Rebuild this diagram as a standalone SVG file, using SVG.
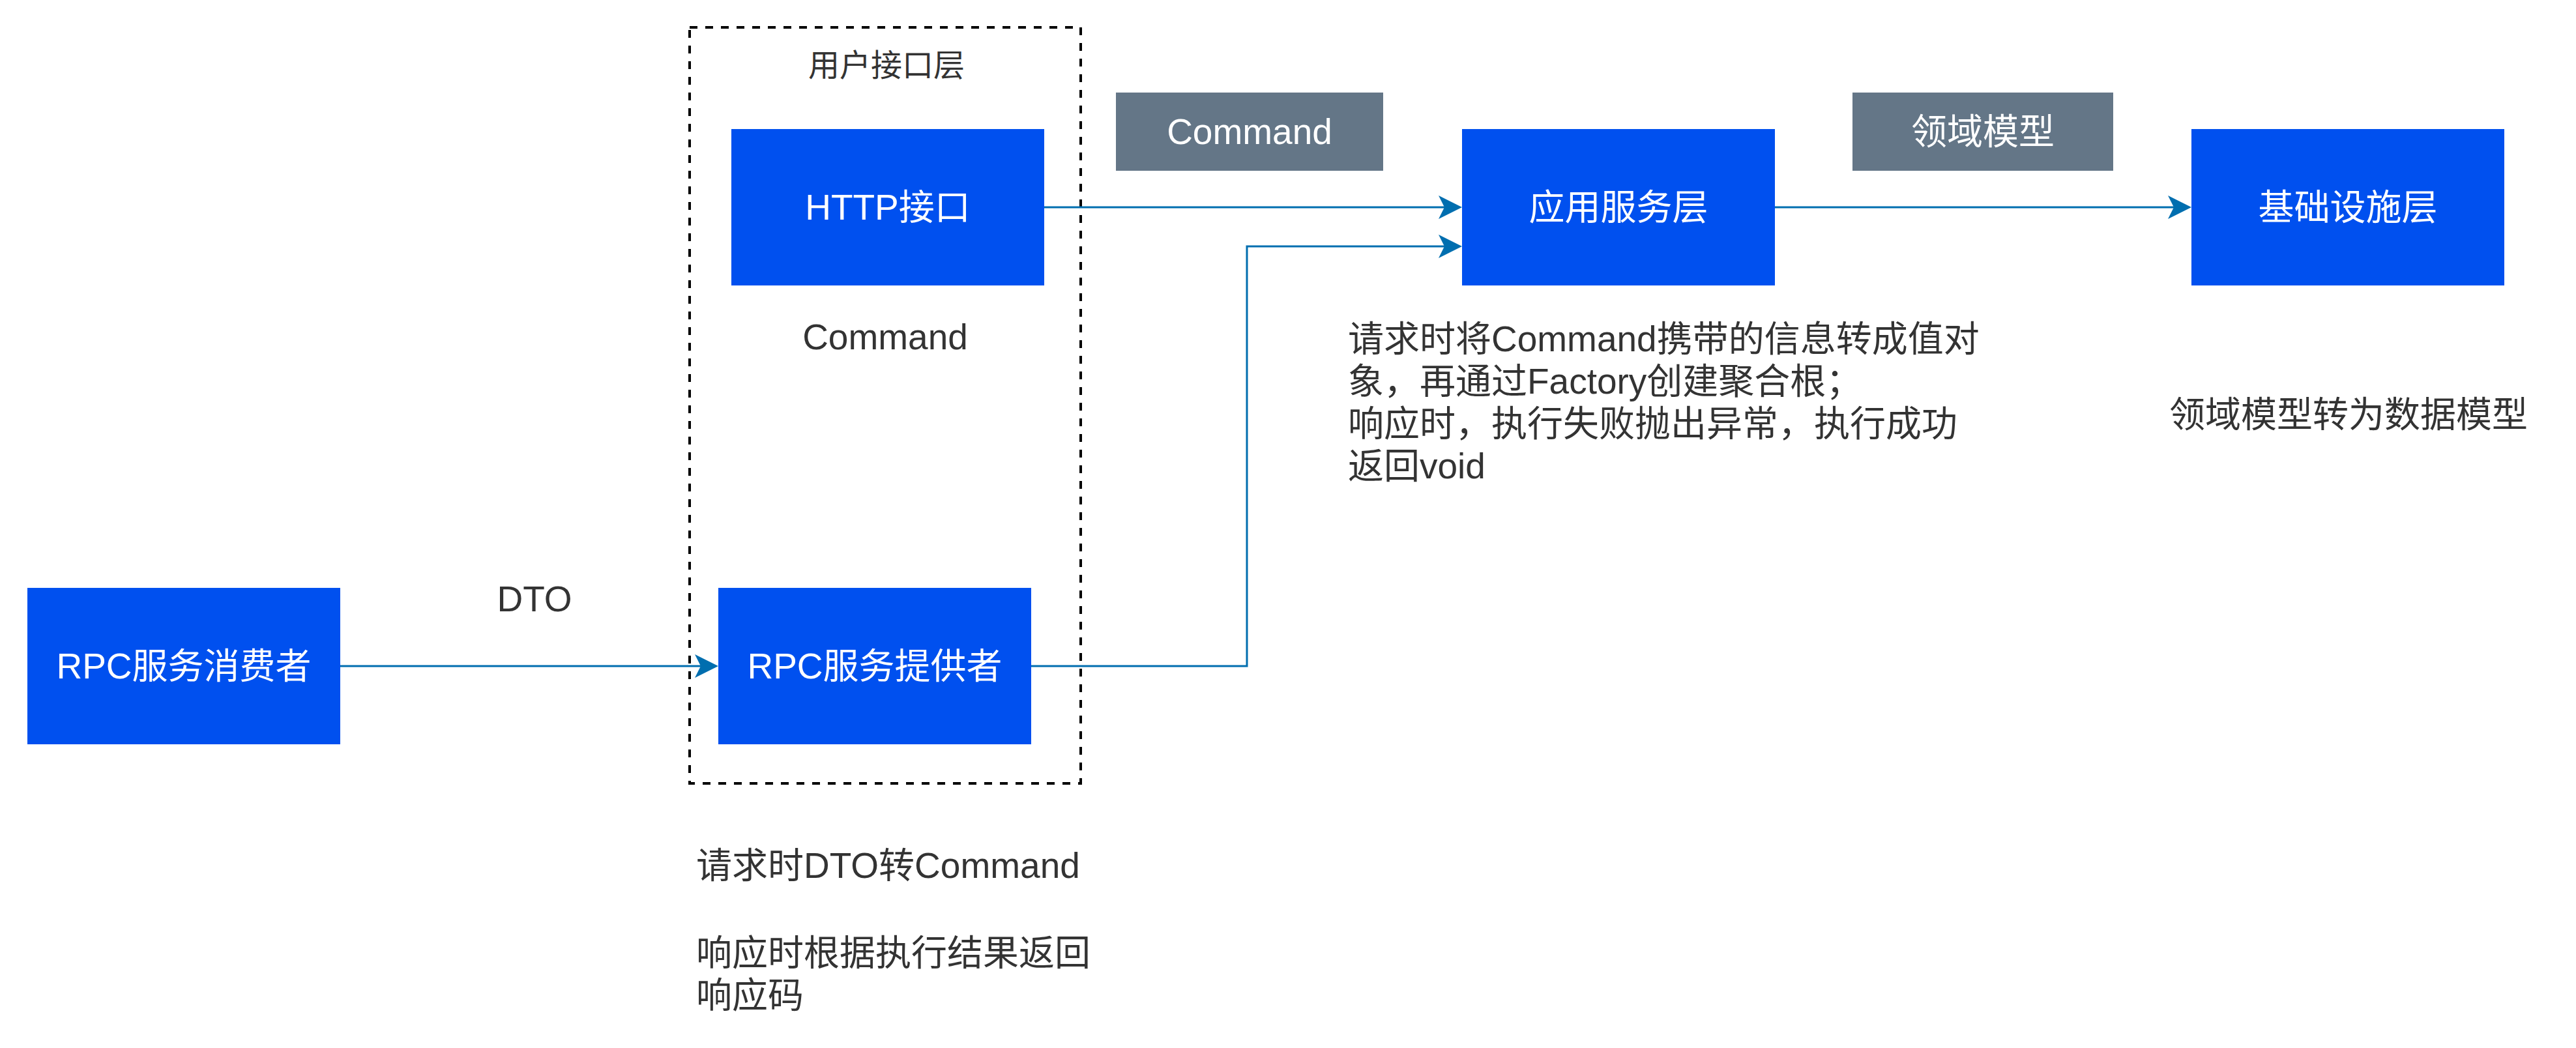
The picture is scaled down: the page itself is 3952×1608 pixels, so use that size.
<svg xmlns="http://www.w3.org/2000/svg" width="3952" height="1608" viewBox="0 0 3952 1608">
<style>
.node{fill:#0050EF;}
.tag{fill:#647687;}
.nt{font-family:"Liberation Sans","Noto Sans CJK SC",sans-serif;font-size:55px;fill:#FFFFFF;text-anchor:middle;}
.lbl{font-family:"Liberation Sans","Noto Sans CJK SC",sans-serif;font-size:55px;fill:#333333;}
.mid{text-anchor:middle;}
.edge{fill:none;stroke:#006EAF;stroke-width:3;marker-end:url(#arr);}
</style>
<defs>
<marker id="arr" markerUnits="userSpaceOnUse" markerWidth="36" markerHeight="36" refX="9" refY="18" orient="auto" viewBox="0 0 36 36">
<path d="M0,0 L36,18 L0,36 L9,18 Z" fill="#006EAF"/>
</marker>
</defs>
<rect width="3952" height="1608" fill="#FFFFFF"/>
<g id="user-interface-layer">
<rect x="1058" y="42" width="600" height="1160" fill="none" stroke="#000000" stroke-width="4" stroke-dasharray="12 12"/>
<text x="1360" y="117" class="lbl mid" style="font-size:48px">用户接口层</text>
</g>
<g id="connectors">
<path class="edge" d="M1602,318 H2216"/>
<path class="edge" d="M1582,1022 H1913 V378 H2216"/>
<path class="edge" d="M522,1022 H1075"/>
<path class="edge" d="M2723,318 H3335"/>
</g>
<g id="http">
<rect class="node" x="1122" y="198" width="480" height="240"/>
<text class="nt" x="1362" y="337">HTTP接口</text>
</g>
<g id="rpc-provider">
<rect class="node" x="1102" y="902" width="480" height="240"/>
<text class="nt" x="1342" y="1041">RPC服务提供者</text>
</g>
<g id="rpc-consumer">
<rect class="node" x="42" y="902" width="480" height="240"/>
<text class="nt" x="282" y="1041">RPC服务消费者</text>
</g>
<g id="app-service">
<rect class="node" x="2243" y="198" width="480" height="240"/>
<text class="nt" x="2483" y="337">应用服务层</text>
</g>
<g id="infra">
<rect class="node" x="3362" y="198" width="480" height="240"/>
<text class="nt" x="3602" y="337">基础设施层</text>
</g>
<g id="tag-command">
<rect class="tag" x="1712" y="142" width="410" height="120"/>
<text class="nt" x="1917" y="221">Command</text>
</g>
<g id="tag-domain">
<rect class="tag" x="2842" y="142" width="400" height="120"/>
<text class="nt" x="3042" y="221">领域模型</text>
</g>
<g id="label-command">
<text class="lbl mid" x="1358" y="536">Command</text>
</g>
<g id="label-dto">
<text class="lbl mid" x="820" y="938">DTO</text>
</g>
<g id="label-app">
<text class="lbl" x="2068" y="539">请求时将Command携带的信息转成值对</text>
<text class="lbl" x="2068" y="604">象，再通过Factory创建聚合根；</text>
<text class="lbl" x="2068" y="669">响应时，执行失败抛出异常，执行成功</text>
<text class="lbl" x="2068" y="734">返回void</text>
</g>
<g id="label-infra">
<text class="lbl mid" x="3603" y="655">领域模型转为数据模型</text>
</g>
<g id="label-rpc">
<text class="lbl" x="1068" y="1347">请求时DTO转Command</text>
<text class="lbl" x="1068" y="1481">响应时根据执行结果返回</text>
<text class="lbl" x="1068" y="1546">响应码</text>
</g>
</svg>
